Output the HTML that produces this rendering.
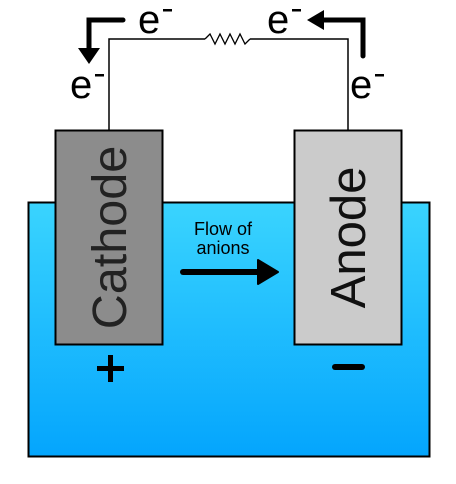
<!DOCTYPE html>
<html><head><style>
html,body{margin:0;padding:0;background:#fff;}
svg{display:block;font-family:"Liberation Sans",Arial,sans-serif;}
</style></head><body>
<svg width="456" height="484" viewBox="0 0 456 484" xmlns="http://www.w3.org/2000/svg">
<defs>
<linearGradient id="g" x1="0" y1="0" x2="0" y2="1">
<stop offset="0" stop-color="#3ad4fe"/>
<stop offset="1" stop-color="#04a5fd"/>
</linearGradient>
</defs>
<rect x="28.5" y="202.5" width="401" height="254" fill="url(#g)" stroke="#000" stroke-width="2"/>
<polyline points="109,130 109,39 205,39" fill="none" stroke="#000" stroke-width="1.5"/>
<polyline points="250,39 348,39 348,130" fill="none" stroke="#000" stroke-width="1.5"/>
<polyline points="205,39 210,34 215,44 220,34 225,44 230,34 235,44 240,34 245,44 250,39" fill="none" stroke="#000" stroke-width="1.3"/>
<rect x="55.5" y="130.5" width="107" height="214" fill="#8c8c8c" stroke="#000" stroke-width="2"/>
<rect x="294.5" y="130.5" width="107" height="214" fill="#cbcbcb" stroke="#000" stroke-width="2"/>
<text transform="translate(126,237.5) rotate(-90)" font-size="48.5" text-anchor="middle" fill="#222">Cathode</text>
<text transform="translate(365,237.5) rotate(-90)" font-size="49" text-anchor="middle" fill="#111">Anode</text>
<text x="138" y="33" font-size="40">e</text><rect x="163" y="9" width="9" height="2.5"/>
<text x="267" y="33" font-size="40">e</text><rect x="292" y="9" width="9" height="2.5"/>
<text x="70" y="98" font-size="40">e</text><rect x="95" y="74" width="9" height="2.5"/>
<text x="350" y="98" font-size="40">e</text><rect x="375" y="74" width="9" height="2.5"/>
<polyline points="123,20 89,20 89,50" fill="none" stroke="#000" stroke-width="5" stroke-linecap="round" stroke-linejoin="miter"/>
<polygon points="78,48 100,48 89,64" fill="#000"/>
<polyline points="363,56 363,20 322,20" fill="none" stroke="#000" stroke-width="5" stroke-linecap="round"/>
<polygon points="324,10 324,30 307,20" fill="#000"/>
<text x="223" y="235" font-size="18" text-anchor="middle">Flow of</text>
<text x="223" y="254" font-size="18" text-anchor="middle">anions</text>
<line x1="183" y1="272" x2="262" y2="272" stroke="#000" stroke-width="6" stroke-linecap="round"/>
<polygon points="258,260 258,284 278,272" fill="#000" stroke="#000" stroke-width="2" stroke-linejoin="round"/>
<rect x="97" y="366" width="27" height="5"/>
<rect x="108" y="355" width="5" height="27"/>
<rect x="332" y="364" width="33" height="6" rx="3"/>
</svg>
</body></html>
